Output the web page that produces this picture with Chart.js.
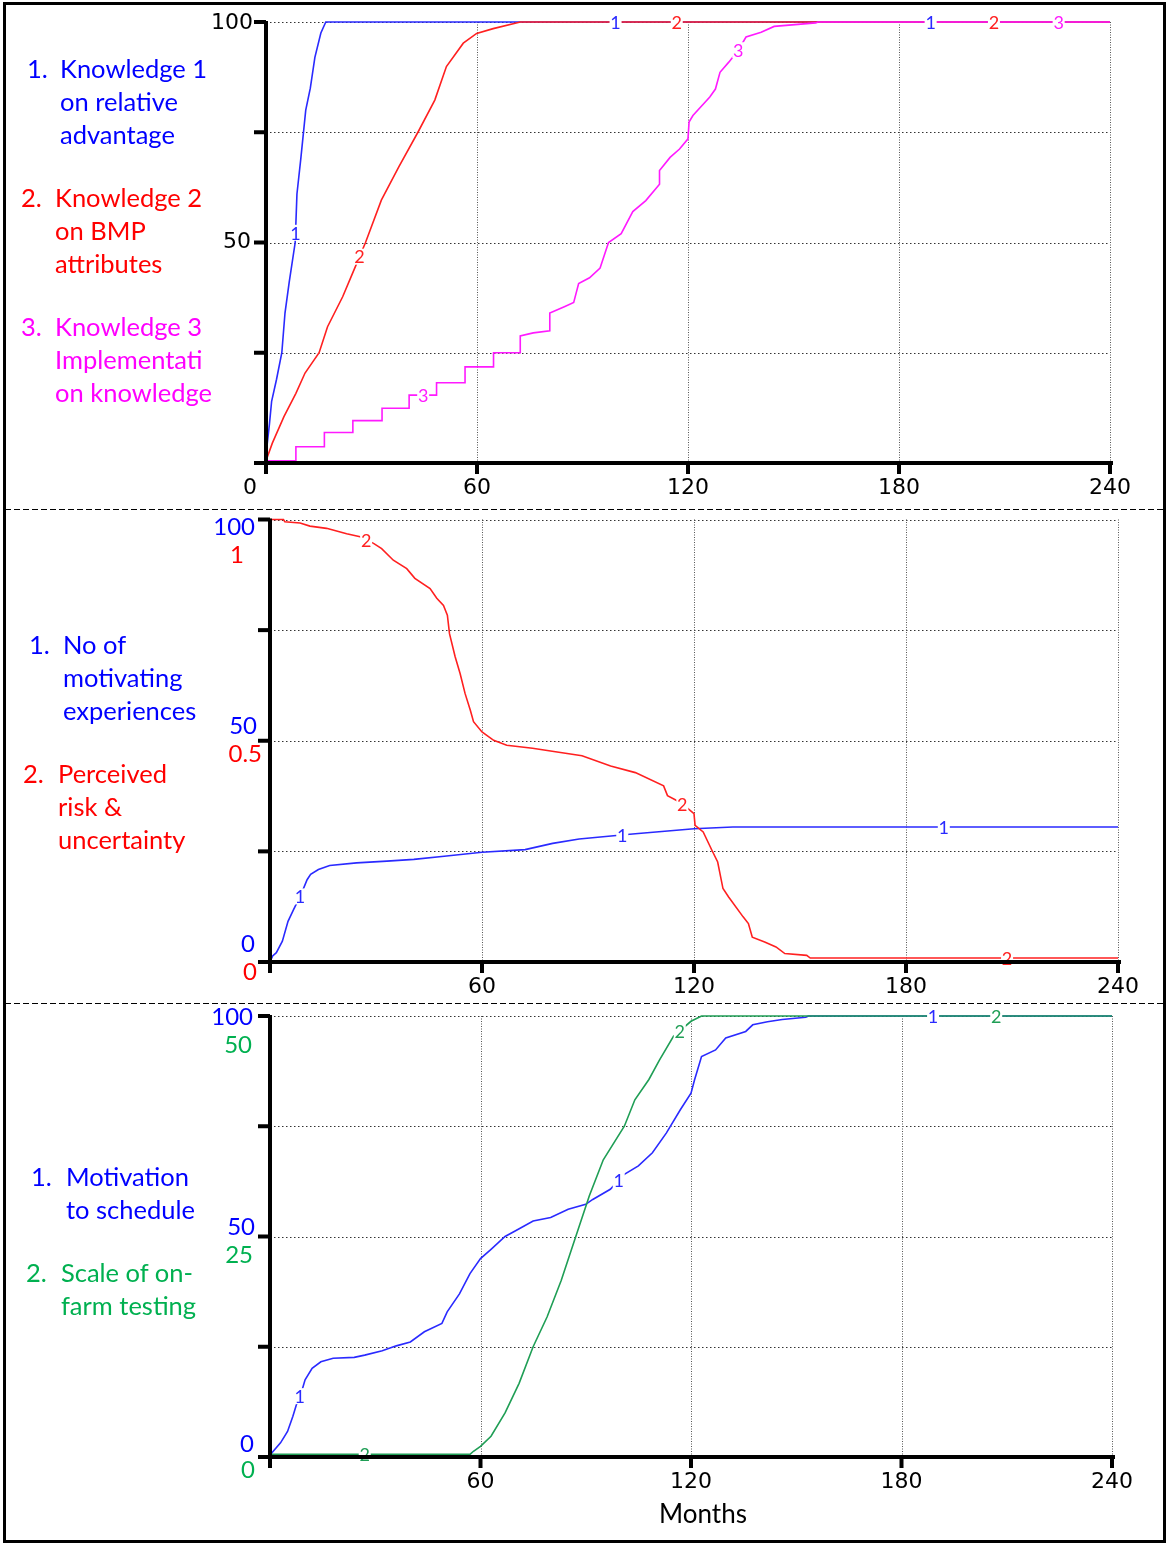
<!DOCTYPE html>
<html>
<head>
<meta charset="utf-8">
<script src="https://cdn.jsdelivr.net/npm/chart.js@4.4.1/dist/chart.umd.min.js"></script>
<style>
  body { margin: 0; width: 1169px; height: 1545px; position: relative; background: #fff; overflow: hidden; }
  canvas { position: absolute; left: 0; }
  .frame { position: absolute; left: 3px; top: 2px; width: 1163px; height: 1541px; border: 3px solid #000; box-sizing: border-box; pointer-events: none; }
  .item { position: absolute; font-family: Lato, sans-serif; font-size: 25.5px; line-height: 33px; white-space: nowrap; }
  .item .num { position: absolute; left: 0; top: 0; }
  .months { position: absolute; left: 603px; width: 200px; top: 1497px; text-align: center; font-family: Lato, sans-serif; font-size: 26px; color: #000; }
</style>
</head>
<body>
<canvas id="p1" width="1169" height="509" style="top:0px"></canvas>
<canvas id="p2" width="1169" height="494" style="top:509px"></canvas>
<canvas id="p3" width="1169" height="542" style="top:1003px"></canvas>

<div class="item" style="left:27px;top:52px;color:#0000ff"><span class="num">1.</span><div style="margin-left:33px">Knowledge 1<br>on relative<br>advantage</div></div>
<div class="item" style="left:21px;top:181px;color:#ff0000"><span class="num">2.</span><div style="margin-left:34px">Knowledge 2<br>on BMP<br>attributes</div></div>
<div class="item" style="left:21px;top:310px;color:#ff00ff"><span class="num">3.</span><div style="margin-left:34px">Knowledge 3<br>Implementati<br>on knowledge</div></div>

<div class="item" style="left:29px;top:628px;color:#0000ff"><span class="num">1.</span><div style="margin-left:34px">No of<br>motivating<br>experiences</div></div>
<div class="item" style="left:23px;top:757px;color:#ff0000"><span class="num">2.</span><div style="margin-left:35px">Perceived<br>risk &amp;<br>uncertainty</div></div>

<div class="item" style="left:31px;top:1160px;color:#0000ff"><span class="num">1.</span><div style="margin-left:35px">Motivation<br>to schedule</div></div>
<div class="item" style="left:26px;top:1256px;color:#00b050"><span class="num">2.</span><div style="margin-left:35px">Scale of on-<br>farm testing</div></div>

<div class="months">Months</div>
<div class="frame"></div>

<script>
// x axis: months 0..240
const monthTicks = [0, 60, 120, 180, 240];
const valueTicks = [0, 25, 50, 75, 100];

// panel 1 - knowledge stocks (0-100)
const k1Month = [0, 0.3, 1, 1.6, 3, 4.5, 5.4, 6.6, 8.3, 8.8, 9.9, 11.3, 12.6, 13.9, 15.6, 17, 240];
const k1Value = [0, 4, 9, 14, 19, 25, 34, 41, 50, 61, 69, 80, 85, 92, 97.5, 100, 100];
const k2Month = [0, 1.8, 5.1, 8.5, 11.1, 15.1, 17.5, 21.8, 24.6, 28.3, 32.8, 37.8, 43.2, 48, 51.3, 56.1, 59.9, 64.6, 72.3, 240];
const k2Value = [0.5, 4.5, 10.5, 15.8, 20.4, 25, 30.9, 37.7, 43, 50, 59.6, 67.2, 75, 82.3, 89.9, 95.2, 97.4, 98.5, 100, 100];
const k3Month = [0, 8.5, 8.5, 16.6, 16.6, 24.7, 24.7, 33, 33, 40.7, 40.7, 48.5, 48.5, 56.6, 56.6, 64.7, 64.7, 72.3, 72.3, 76, 80.7, 80.7, 85, 87.5, 88.9, 92, 95, 97.4, 101, 104.3, 108, 111.9, 111.9, 114.9, 117.6, 120, 120.3, 121.4, 126.2, 127.8, 129.1, 131.6, 134.3, 136.5, 140.8, 144.5, 156.3, 157, 240];
const k3Value = [0.5, 0.5, 3.7, 3.7, 6.9, 6.9, 9.6, 9.6, 12.4, 12.4, 15.4, 15.4, 18.2, 18.2, 21.8, 21.8, 25, 25, 28.8, 29.5, 30, 34, 35.5, 36.4, 40.7, 42, 44.2, 50, 52, 57, 59.5, 63.2, 66.3, 69.3, 71.2, 73.5, 77.3, 78.8, 83, 84.8, 88.6, 90.9, 93.6, 96.6, 97.7, 99, 99.8, 100, 100];

// panel 2 - motivating experiences (0-100) and perceived risk (0-1)
const expMonth = [0, 0.75, 1.8, 3.5, 5.1, 6.7, 8.8, 10.5, 11.5, 13.7, 16.9, 24.5, 33.1, 40.7, 49.3, 60, 72.2, 80, 87.5, 98, 103.4, 110.9, 120, 131, 240];
const expValue = [0, 1.35, 2.1, 4.7, 9.2, 11.9, 15.3, 18.6, 19.8, 20.9, 21.8, 22.4, 22.8, 23.2, 23.9, 24.8, 25.4, 26.8, 27.8, 28.6, 29, 29.5, 30.1, 30.5, 30.5];
const riskMonth = [0, 3.8, 4.2, 8.5, 11.3, 16, 21.7, 25.5, 29.3, 31.6, 34.9, 38.7, 41, 45.3, 47.2, 49.1, 50.2, 50.8, 52.4, 53.8, 55.2, 56.7, 57.6, 60, 63.3, 67, 74.3, 80.8, 88.3, 96.4, 103.4, 111.4, 112.5, 116.3, 120, 120.3, 122.6, 125.1, 126.7, 128.2, 129.8, 133.9, 135.4, 136.5, 140, 143.2, 145.7, 151.9, 152.9, 240];
const riskValue = [1, 1, 0.995, 0.992, 0.985, 0.98, 0.968, 0.961, 0.946, 0.934, 0.908, 0.889, 0.867, 0.844, 0.822, 0.806, 0.784, 0.742, 0.69, 0.652, 0.607, 0.569, 0.543, 0.52, 0.501, 0.49, 0.483, 0.475, 0.466, 0.443, 0.428, 0.398, 0.376, 0.36, 0.335, 0.309, 0.294, 0.252, 0.226, 0.166, 0.147, 0.102, 0.087, 0.056, 0.045, 0.034, 0.019, 0.015, 0.009, 0.009];

// panel 3 - motivation to schedule (0-100) and scale of on-farm testing (0-50)
const motMonth = [0, 0.5, 3, 5, 6.5, 7.5, 9, 10, 12, 14.5, 18, 24, 27, 32, 36, 40, 44, 49, 50.5, 54, 57, 60, 63, 67, 70, 75, 80, 85, 90, 92, 97, 101, 105, 109, 113, 117, 120, 121, 123, 127, 129.9, 135.6, 137.6, 141.8, 146, 152.7, 153.5, 240];
const motValue = [0, 0.9, 3.2, 5.8, 9.2, 11.8, 14.8, 17.5, 20.1, 21.6, 22.4, 22.6, 23.1, 24.1, 25.2, 26.1, 28.4, 30.3, 32.9, 37, 41.6, 45, 47.1, 50, 51.3, 53.5, 54.3, 56.2, 57.3, 58.4, 60.7, 64.1, 66, 69, 73.5, 78.8, 82.5, 85.5, 90.8, 92.3, 95, 96.5, 98, 98.7, 99.2, 99.7, 100, 100];
const testMonth = [0, 57, 58, 60, 63, 67, 71, 75, 79, 83, 86, 91, 95, 101, 104, 108, 111, 115, 120, 123, 240];
const testValue = [0.3, 0.3, 0.65, 1.2, 2.35, 5, 8.35, 12.5, 15.9, 20, 23.6, 29.6, 33.7, 37.5, 40.5, 42.8, 45, 47.7, 49.4, 50, 50];

// months where the line number is written on each curve
const k1Marks = [8.4, 99.4, 189];
const k2Marks = [26.6, 116.8, 207];
const k3Marks = [44.7, 134.3, 225.4];
const expMarks = [8.5, 99.7, 190.7];
const riskMarks = [27.2, 116.7, 208.6];
const motMarks = [8.5, 99.4, 189];
const testMarks = [27, 116.8, 207];

const BLUE = '#2a2aff', RED = '#ff2020', MAGENTA = '#ff1aff', GREEN = '#1f9e55';
const TICK_FONT = '22px "DejaVu Sans"';
const COL_FONT = '24px Lato';

function pts(ms, vs) {
    return ms.map((m, i) => ({ x: m, y: vs[i] }));
}

function valueAt(ms, vs, m) {
    for (let i = 1; i < ms.length; i++) {
        if (m <= ms[i]) {
            const t = ms[i] === ms[i - 1] ? 1 : (m - ms[i - 1]) / (ms[i] - ms[i - 1]);
            return vs[i - 1] + t * (vs[i] - vs[i - 1]);
        }
    }
    return vs[vs.length - 1];
}

function series(ms, vs, color, axis, order) {
    return {
        data: pts(ms, vs), borderColor: color, borderWidth: 1.6, pointRadius: 0,
        showLine: true, tension: 0, yAxisID: axis, order: order, clip: 4
    };
}

function panelDecor(cfg) {
    return {
        id: 'panelDecor',
        beforeDatasetsDraw(chart) {
            const { ctx, chartArea: a, scales } = chart;
            ctx.save();
            ctx.lineWidth = 1;
            ctx.strokeStyle = '#333';
            ctx.setLineDash([1.5, 2.5]);
            valueTicks.slice(1).forEach(v => {
                const py = Math.round(scales.y.getPixelForValue(v)) + 0.5;
                ctx.beginPath(); ctx.moveTo(a.left, py); ctx.lineTo(a.right, py); ctx.stroke();
            });
            ctx.strokeStyle = '#555';
            ctx.setLineDash([1, 1.5]);
            monthTicks.slice(1).forEach(m => {
                const px = Math.round(scales.x.getPixelForValue(m)) + 0.5;
                ctx.beginPath(); ctx.moveTo(px, a.top); ctx.lineTo(px, a.bottom); ctx.stroke();
            });
            if (cfg.separator) {
                ctx.strokeStyle = '#000';
                ctx.setLineDash([6, 3]);
                ctx.beginPath(); ctx.moveTo(5, 0.5); ctx.lineTo(1164, 0.5); ctx.stroke();
            }
            ctx.restore();
        },
        afterDatasetsDraw(chart) {
            const { ctx, chartArea: a, scales } = chart;
            ctx.save();
            // curve numbers
            ctx.font = '18px Lato';
            ctx.textAlign = 'center';
            ctx.textBaseline = 'middle';
            cfg.marks.forEach(mk => {
                mk.at.forEach(m => {
                    const px = scales.x.getPixelForValue(m);
                    const py = scales[mk.axis].getPixelForValue(valueAt(mk.ms, mk.vs, m));
                    ctx.fillStyle = '#fff';
                    ctx.fillRect(px - 6, py - 8, 12, 16);
                    ctx.fillStyle = mk.color;
                    ctx.fillText(mk.text, px, py + 1);
                });
            });
            // axes
            ctx.fillStyle = '#000';
            ctx.fillRect(a.left - 2, a.top - 1, 4, a.bottom - a.top + 3);
            ctx.fillRect(a.left - 4, a.bottom - 2, a.right - a.left + 7, 4);
            valueTicks.forEach(v => {
                const py = scales.y.getPixelForValue(v);
                ctx.fillRect(a.left - 12, py - 2, 12, 4);
            });
            monthTicks.forEach(m => {
                const px = scales.x.getPixelForValue(m);
                ctx.fillRect(px - 2, a.bottom, 4, 11);
            });
            // month labels
            ctx.font = TICK_FONT;
            ctx.fillStyle = '#000';
            ctx.textAlign = 'center';
            monthTicks.slice(1).forEach(m => {
                ctx.fillText(String(m), scales.x.getPixelForValue(m), a.bottom + 25);
            });
            // value labels
            ctx.textAlign = 'right';
            cfg.labels.forEach(l => {
                ctx.font = l.font;
                ctx.fillStyle = l.color;
                ctx.fillText(l.text, a.left + l.dx, scales.y.getPixelForValue(l.value) + l.dy);
            });
            ctx.restore();
        }
    };
}

function makeChart(id, pad, datasets, y2max, cfg) {
    const scales = {
        x: { type: 'linear', min: 0, max: 240, display: false },
        y: { min: 0, max: 100, display: false }
    };
    if (y2max) scales.y2 = { min: 0, max: y2max, display: false };
    return new Chart(document.getElementById(id), {
        type: 'scatter',
        data: { datasets: datasets },
        options: {
            responsive: false, animation: false, devicePixelRatio: 1,
            layout: { padding: pad },
            plugins: { legend: { display: false }, tooltip: { enabled: false } },
            scales: scales
        },
        plugins: [panelDecor(cfg)]
    });
}

makeChart('p1', { left: 266, right: 59, top: 22, bottom: 46 }, [
    series(k1Month, k1Value, BLUE, 'y', 3),
    series(k2Month, k2Value, RED, 'y', 2),
    series(k3Month, k3Value, MAGENTA, 'y', 1)
], null, {
    separator: false,
    marks: [
        { text: '1', color: BLUE, ms: k1Month, vs: k1Value, axis: 'y', at: k1Marks },
        { text: '2', color: RED, ms: k2Month, vs: k2Value, axis: 'y', at: k2Marks },
        { text: '3', color: MAGENTA, ms: k3Month, vs: k3Value, axis: 'y', at: k3Marks }
    ],
    labels: [
        { text: '100', value: 100, color: '#000', font: TICK_FONT, dx: -13, dy: 1 },
        { text: '50', value: 50, color: '#000', font: TICK_FONT, dx: -15, dy: 0 },
        { text: '0', value: 0, color: '#000', font: TICK_FONT, dx: -9, dy: 25 }
    ]
});

makeChart('p2', { left: 270, right: 51, top: 10.5, bottom: 41 }, [
    series(expMonth, expValue, BLUE, 'y', 2),
    series(riskMonth, riskValue, RED, 'y2', 1)
], 1, {
    separator: true,
    marks: [
        { text: '1', color: BLUE, ms: expMonth, vs: expValue, axis: 'y', at: expMarks },
        { text: '2', color: RED, ms: riskMonth, vs: riskValue, axis: 'y2', at: riskMarks }
    ],
    labels: [
        { text: '100', value: 100, color: '#0000ff', font: COL_FONT, dx: -15, dy: 8 },
        { text: '1', value: 100, color: '#ff0000', font: COL_FONT, dx: -26, dy: 36 },
        { text: '50', value: 50, color: '#0000ff', font: COL_FONT, dx: -13, dy: -14 },
        { text: '0.5', value: 50, color: '#ff0000', font: COL_FONT, dx: -8, dy: 14 },
        { text: '0', value: 0, color: '#0000ff', font: COL_FONT, dx: -15, dy: -18 },
        { text: '0', value: 0, color: '#ff0000', font: COL_FONT, dx: -13, dy: 10 }
    ]
});

makeChart('p3', { left: 270, right: 57, top: 13, bottom: 88 }, [
    series(motMonth, motValue, BLUE, 'y', 2),
    series(testMonth, testValue, GREEN, 'y2', 1)
], 50, {
    separator: true,
    marks: [
        { text: '1', color: BLUE, ms: motMonth, vs: motValue, axis: 'y', at: motMarks },
        { text: '2', color: GREEN, ms: testMonth, vs: testValue, axis: 'y2', at: testMarks }
    ],
    labels: [
        { text: '100', value: 100, color: '#0000ff', font: COL_FONT, dx: -17, dy: 1 },
        { text: '50', value: 100, color: '#00b050', font: COL_FONT, dx: -18, dy: 29 },
        { text: '50', value: 50, color: '#0000ff', font: COL_FONT, dx: -15, dy: -9 },
        { text: '25', value: 50, color: '#00b050', font: COL_FONT, dx: -17, dy: 19 },
        { text: '0', value: 0, color: '#0000ff', font: COL_FONT, dx: -16, dy: -13 },
        { text: '0', value: 0, color: '#00b050', font: COL_FONT, dx: -15, dy: 13 }
    ]
});
</script>
</body>
</html>
